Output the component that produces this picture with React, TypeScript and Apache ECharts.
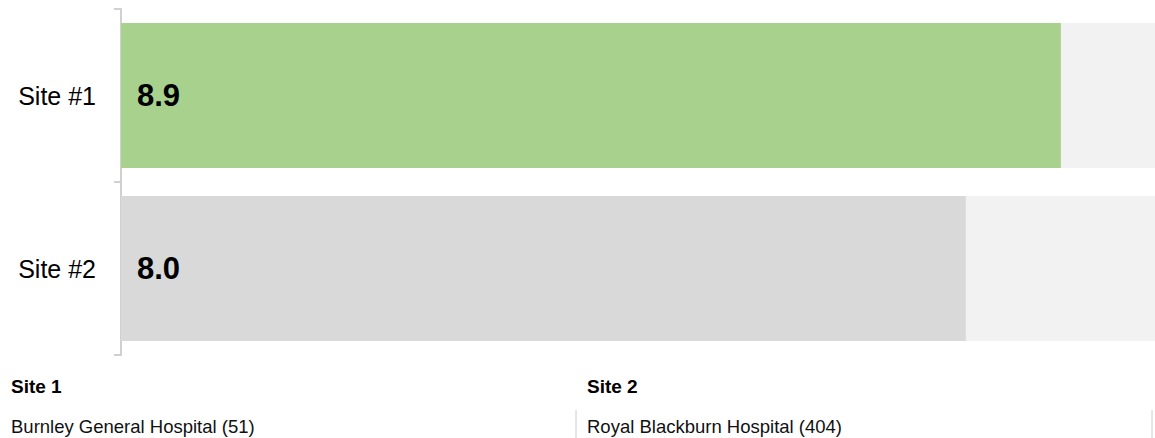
import React, { useEffect, useRef } from "react";
import * as echarts from "echarts";

const categories = ["Site #1", "Site #2"];
const scores = [8.9, 8.0];
const barColors = ["#a9d18e", "#d9d9d9"];
const siteTitles = ["Site 1", "Site 2"];
const siteNames = ["Burnley General Hospital (51)", "Royal Blackburn Hospital (404)"];
const scaleMax = 10;

const FONT = "Liberation Sans";

export default function App() {
  const ref = useRef<HTMLDivElement>(null);
  useEffect(() => {
    document.body.style.margin = "0";
    const chart = echarts.init(ref.current!, undefined, { renderer: "svg" });
    chart.setOption({
      animation: false,
      textStyle: { fontFamily: FONT },
      grid: { left: 121, right: 0, top: 9, bottom: 83 },
      xAxis: {
        type: "value",
        min: 0,
        max: scaleMax,
        show: false,
      },
      yAxis: {
        type: "category",
        data: categories,
        inverse: true,
        axisLine: { show: true, lineStyle: { color: "#d0d0d0", width: 2 } },
        axisTick: { show: true, length: 7, lineStyle: { color: "#d0d0d0", width: 2 } },
        axisLabel: { fontSize: 25, color: "#000", margin: 25, fontFamily: FONT },
      },
      series: [
        {
          type: "bar",
          barWidth: 145,
          showBackground: true,
          backgroundStyle: { color: "#f2f2f2" },
          data: scores.map((v, i) => ({ value: v, itemStyle: { color: barColors[i] } })),
          label: {
            show: true,
            position: "insideLeft",
            distance: 16,
            fontSize: 31,
            fontWeight: "bold",
            color: "#000",
            fontFamily: FONT,
            formatter: (p: any) => Number(p.value).toFixed(1),
          },
        },
      ],
      graphic: [
        ...siteTitles.map((t, i) => ({
          type: "text",
          x: 11 + i * 576,
          y: 386,
          style: {
            text: t,
            fontFamily: FONT,
            fontSize: 19,
            fontWeight: "bold",
            fill: "#000",
            verticalAlign: "middle",
          },
        })),
        ...siteNames.map((t, i) => ({
          type: "text",
          x: 11 + i * 576,
          y: 426,
          style: {
            text: t,
            fontFamily: FONT,
            fontSize: 18.5,
            fill: "#111",
            verticalAlign: "middle",
          },
        })),
        ...[576, 1152].map((x) => ({
          type: "line",
          shape: { x1: x, y1: 410, x2: x, y2: 440 },
          style: { stroke: "#cccccc", lineWidth: 1 },
        })),
      ],
    });
    return () => chart.dispose();
  }, []);
  return (
    <div style={{ width: 1155, height: 438, overflow: "hidden" }}>
      <div ref={ref} style={{ width: 1177, height: 438 }} />
    </div>
  );
}
